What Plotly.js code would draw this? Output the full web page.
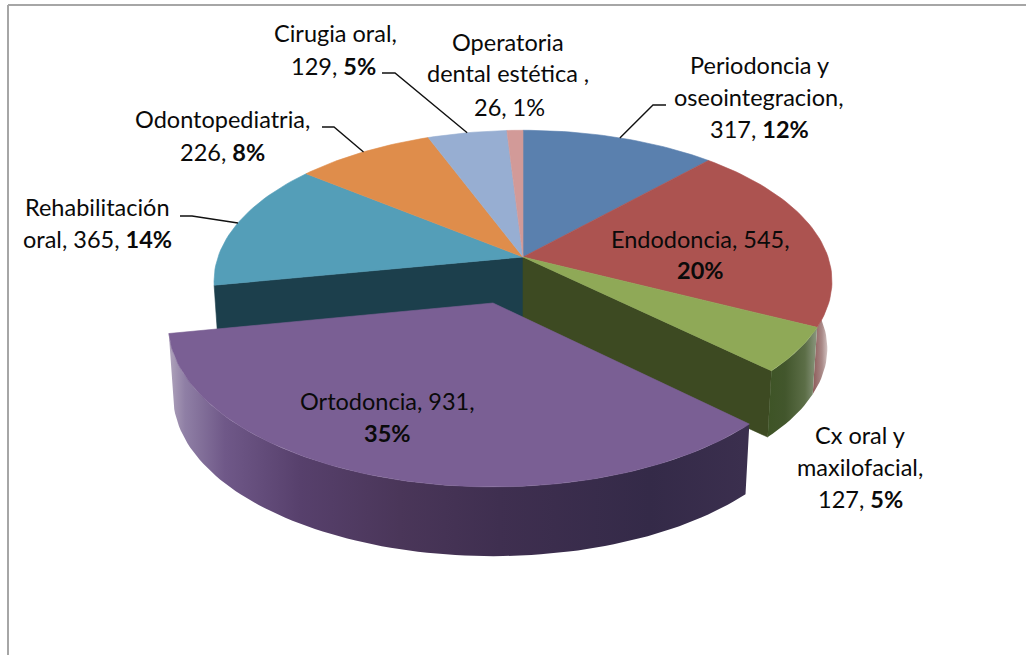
<!DOCTYPE html>
<html><head><meta charset="utf-8">
<script src="https://cdn.plot.ly/plotly-3.0.1.min.js"></script>
<style>html,body{margin:0;padding:0;background:#fff;overflow:hidden}</style>
</head><body><div id="chart" style="width:1026px;height:655px"></div>
<script>
// ---- data ----
const categories = ["Periodoncia y oseointegracion","Endodoncia","Cx oral y maxilofacial","Ortodoncia","Rehabilitación oral","Odontopediatria","Cirugia oral","Operatoria dental estética"];
const values = [317,545,127,931,365,226,129,26];
const percentLabels = ["12%","20%","5%","35%","14%","8%","5%","1%"];

// ---- styles ----
const topColors = ["#5a80ae","#ac5350","#8fa957","#7a5f94","#549eb8","#df8d4b","#97aed2","#d29a98"];
const FONT = "Lato, 'Open Sans', sans-serif";

// ---- projection of the tilted pie ----
const mainPie = {cx:523, cy:257, R:305, Ry:147, k:0.16, depth:68};
const explodedPie = {cx:493, cy:303, R:322, Ry:160, k:0.13, depth:72};
const BOTTOM_SCALE = 0.985;

const total = values.reduce((a,b)=>a+b,0);
const edges = [0];
values.forEach(v=>edges.push(edges[edges.length-1]+v/total*360));

function rim(p,deg,bottom){
  const t=deg*Math.PI/180,u=Math.sin(t),v=Math.cos(t),w=1+p.k*v,s=bottom?BOTTOM_SCALE:1;
  return [p.cx+s*p.R*u/w,(p.cy+(bottom?p.depth:0))-s*p.Ry*v/w];
}
function arc(p,a,b,bottom){
  const n=Math.max(2,Math.ceil(Math.abs(b-a)/1.5)),o=[];
  for(let i=0;i<=n;i++)o.push(rim(p,a+(b-a)*i/n,bottom));
  return o;
}
function apex(p,bottom){return [p.cx,p.cy+(bottom?p.depth:0)];}

const traces=[];
function poly(points,color,gradient){
  const t={type:"scatter",mode:"lines",x:points.map(q=>q[0]).concat(points[0][0]),y:points.map(q=>q[1]).concat(points[0][1]),
    fill:"toself",hoverinfo:"skip",showlegend:false};
  if(gradient){t.fillgradient=gradient;t.line={width:0};t.fillcolor="rgba(0,0,0,0)";}
  else{t.fillcolor=color;t.line={color:color,width:0.6};}
  traces.push(t);
}
function hGrad(pts,stops){
  const xs=pts.map(q=>q[0]),a=Math.min(...xs),b=Math.max(...xs);
  const inner=stops.map(s=>[(s[0]-a)/(b-a),s[1]]).filter(s=>s[0]>0.001&&s[0]<0.999);
  const scale=[[0,stops[0][1]]].concat(inner,[[1,stops[stops.length-1][1]]]);
  return {type:"horizontal",start:a,stop:b,colorscale:scale};
}
function wall(p,a,b){return arc(p,a,b,false).concat(arc(p,b,a,true));}

// inner walls of the main pie, seen through the gap
const orto=3;
const e=edges;
poly([apex(mainPie,false),rim(mainPie,e[4],false),rim(mainPie,e[4],true),apex(mainPie,true)],"#1c3f4c");
poly([apex(mainPie,false),rim(mainPie,e[3],false),rim(mainPie,e[3],true),apex(mainPie,true)],"#3d4a22");
// outer walls on the right
let w1=wall(mainPie,88,e[2]);
poly(w1,null,hGrad(w1,[[810,"#8d5a58"],[822,"#a98a88"],[832,"#dccfcf"],[836,"#f4f0f0"]]));
let w2=wall(mainPie,e[2],e[3]);
poly(w2,null,hGrad(w2,[[765,"#3e5426"],[785,"#42562c"],[805,"#5c6e47"],[822,"#8c9880"]]));
// top faces of the main pie
values.forEach((v,i)=>{ if(i===orto)return;
  poly([apex(mainPie,false)].concat(arc(mainPie,e[i],e[i+1],false)),topColors[i]);
});
// exploded slice
let w3=wall(explodedPie,e[orto],e[orto+1]);
poly(w3,null,hGrad(w3,[[169,"#b0a4bc"],[185,"#8f7fa5"],[225,"#6f5888"],[300,"#57406c"],[400,"#4a3659"],[500,"#3f2f50"],[650,"#342a48"],[745,"#3b2f4e"]]));
poly([apex(explodedPie,false)].concat(arc(explodedPie,e[orto],e[orto+1],false)),topColors[orto]);

// leader lines: elbow starts are layout, ends sit on the rim at each slice's mid-angle
const leaders=[{i:0,from:[666,105],elbow:[653,105]},{i:4,from:[180,216],elbow:[192,216]},{i:5,from:[322,127],elbow:[334,127]},{i:6,from:[382,73],elbow:[395,73]}];
leaders.forEach(l=>{
  const end=rim(mainPie,(e[l.i]+e[l.i+1])/2,false);
  traces.push({type:"scatter",mode:"lines",x:[l.from[0],l.elbow[0],end[0]],y:[l.from[1],l.elbow[1],end[1]],
    line:{color:"#111",width:1.4},hoverinfo:"skip",showlegend:false});
});

// label lines
const b=i=>"<b>"+percentLabels[i]+"</b>";
const textLines=[
 ["Cirugia oral,",335,33],["129, "+b(6),333,66],
 ["Operatoria",508,42],["dental estética ,",508,73],["26, 1%",509,107],
 ["Periodoncia y",759,65],["oseointegracion,",759,97],["317, "+b(0),759,129],
 ["Endodoncia, 545,",700,239],[b(1),700,270],
 ["Odontopediatria,",222,119],["226, "+b(5),222,152],
 ["Rehabilitación",97,207],["oral, 365, "+b(4),97,239],
 ["Cx oral y",860,435],["maxilofacial,",860,467],["127, "+b(2),860,499],
 ["Ortodoncia, 931,",387,401],[b(3),387,433]
];
const annotations=textLines.map(t=>({text:t[0],x:t[1],y:t[2],xref:"x",yref:"y",showarrow:false,xanchor:"center",yanchor:"middle",
  font:{family:FONT,size:23.5,color:"#0a0a0a"}}));

const layout={width:1026,height:655,margin:{l:0,r:0,t:0,b:0},paper_bgcolor:"#fff",plot_bgcolor:"#fff",showlegend:false,
  xaxis:{range:[0,1026],visible:false,fixedrange:true},
  yaxis:{range:[655,0],visible:false,fixedrange:true},
  annotations,
  shapes:[
    {type:"line",xref:"x",yref:"y",x0:8,x1:1026,y0:5,y1:5,line:{color:"#a6a6a6",width:2}},
    {type:"line",xref:"x",yref:"y",x0:8,x1:8,y0:5,y1:655,line:{color:"#a6a6a6",width:2}}
  ]};
Plotly.newPlot("chart",traces,layout,{staticPlot:true,displayModeBar:false});
</script></body></html>
